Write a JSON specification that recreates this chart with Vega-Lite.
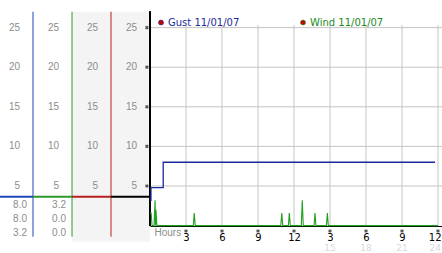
{
  "$schema": "https://vega.github.io/schema/vega-lite/v6.json",
  "padding": 0,
  "spacing": 0,
  "bounds": "flush",
  "background": "white",
  "config": {"view": {"stroke": null}, "font": "DejaVu Sans"},
  "resolve": {"scale": {"x": "independent", "color": "independent"}, "legend": {"color": "independent"}},
  "datasets": {
    "columns": [
      {"col": 1, "sensor": "gust", "lo": 0, "hi": 1},
      {"col": 2, "sensor": "wind", "lo": 1, "hi": 2},
      {"col": 3, "sensor": "third", "lo": 2, "hi": 3},
      {"col": 4, "sensor": "axis", "lo": 3, "hi": 4}
    ],
    "levels": [{"v": 5}, {"v": 10}, {"v": 15}, {"v": 20}, {"v": 25}],
    "scaleLabels": [
      {"col": 1, "v": 5}, {"col": 1, "v": 10}, {"col": 1, "v": 15}, {"col": 1, "v": 20}, {"col": 1, "v": 25},
      {"col": 2, "v": 5}, {"col": 2, "v": 10}, {"col": 2, "v": 15}, {"col": 2, "v": 20}, {"col": 2, "v": 25},
      {"col": 3, "v": 5}, {"col": 3, "v": 10}, {"col": 3, "v": 15}, {"col": 3, "v": 20}, {"col": 3, "v": 25},
      {"col": 4, "v": 5}, {"col": 4, "v": 10}, {"col": 4, "v": 15}, {"col": 4, "v": 20}, {"col": 4, "v": 25}
    ],
    "summary": [
      {"col": 1, "lines": ["8.0", "8.0", "3.2"]},
      {"col": 2, "lines": ["3.2", "0.0", "0.0"]}
    ],
    "hours": [{"h": 3}, {"h": 6}, {"h": 9}, {"h": 12}, {"h": 15}, {"h": 18}, {"h": 21}, {"h": 24}],
    "gust": [
      {"series": "Gust", "h": 0, "v": 3.2},
      {"series": "Gust", "h": 0.08, "v": 4.8},
      {"series": "Gust", "h": 1.1, "v": 8.0},
      {"series": "Gust", "h": 23.75, "v": 8.0}
    ],
    "wind": [
      {"series": "Wind", "h": 0, "v": 1.6},
      {"series": "Wind", "h": 0.1, "v": 1.6},
      {"series": "Wind", "h": 0.17, "v": 0},
      {"series": "Wind", "h": 0.34, "v": 0},
      {"series": "Wind", "h": 0.42, "v": 3.2},
      {"series": "Wind", "h": 0.46, "v": 0},
      {"series": "Wind", "h": 0.5, "v": 2.0},
      {"series": "Wind", "h": 0.57, "v": 0},
      {"series": "Wind", "h": 3.61, "v": 0},
      {"series": "Wind", "h": 3.69, "v": 1.6},
      {"series": "Wind", "h": 3.77, "v": 0},
      {"series": "Wind", "h": 10.9, "v": 0},
      {"series": "Wind", "h": 10.98, "v": 1.6},
      {"series": "Wind", "h": 11.06, "v": 0},
      {"series": "Wind", "h": 11.53, "v": 0},
      {"series": "Wind", "h": 11.61, "v": 1.6},
      {"series": "Wind", "h": 11.69, "v": 0},
      {"series": "Wind", "h": 12.61, "v": 0},
      {"series": "Wind", "h": 12.69, "v": 3.2},
      {"series": "Wind", "h": 12.77, "v": 0},
      {"series": "Wind", "h": 13.67, "v": 0},
      {"series": "Wind", "h": 13.75, "v": 1.6},
      {"series": "Wind", "h": 13.83, "v": 0},
      {"series": "Wind", "h": 14.7, "v": 0},
      {"series": "Wind", "h": 14.78, "v": 1.6},
      {"series": "Wind", "h": 14.86, "v": 0},
      {"series": "Wind", "h": 24, "v": 0}
    ]
  },
  "hconcat": [
    {
      "width": 150,
      "height": 253,
      "layer": [
        {
          "data": {"name": "columns"},
          "transform": [{"filter": "datum.col >= 3"}],
          "mark": {"type": "rect", "fill": "#f4f4f4"},
          "encoding": {
            "x": {"field": "lo", "type": "quantitative", "scale": {"domain": [0.1538, 4], "nice": false, "zero": false}, "axis": null},
            "x2": {"field": "hi"},
            "y": {"datum": 27, "type": "quantitative", "scale": {"domain": [-3.46, 28.485], "nice": false, "zero": false}, "axis": null},
            "y2": {"datum": -2}
          }
        },
        {
          "data": {"name": "columns"},
          "transform": [{"filter": "datum.col <= 3"}],
          "mark": {"type": "rule", "strokeWidth": 1},
          "encoding": {
            "x": {"field": "col", "type": "quantitative", "scale": {"domain": [0.1538, 4], "nice": false, "zero": false}, "axis": null},
            "y": {"datum": 27, "type": "quantitative", "scale": {"domain": [-3.46, 28.485], "nice": false, "zero": false}, "axis": null},
            "y2": {"datum": -1.4},
            "color": {"field": "sensor", "type": "nominal", "scale": {"domain": ["gust", "wind", "third", "axis"], "range": ["#1f44b8", "#2a9a2a", "#b82020", "#000000"]}, "legend": null}
          }
        },
        {
          "data": {"name": "columns"},
          "mark": {"type": "rule", "strokeWidth": 2, "clip": true},
          "encoding": {
            "x": {"field": "lo", "type": "quantitative", "scale": {"domain": [0.1538, 4], "nice": false, "zero": false}, "axis": null},
            "x2": {"field": "hi"},
            "y": {"datum": 3.65, "type": "quantitative", "scale": {"domain": [-3.46, 28.485], "nice": false, "zero": false}, "axis": null},
            "color": {"field": "sensor", "type": "nominal", "scale": {"domain": ["gust", "wind", "third", "axis"], "range": ["#1f44b8", "#2a9a2a", "#d01818", "#000000"]}, "legend": null}
          }
        },
        {
          "data": {"name": "scaleLabels"},
          "mark": {"type": "text", "align": "right", "baseline": "middle", "dx": -13, "font": "Liberation Sans", "fontSize": 10, "color": "#8c8c8c"},
          "encoding": {
            "x": {"field": "col", "type": "quantitative", "scale": {"domain": [0.1538, 4], "nice": false, "zero": false}, "axis": null},
            "y": {"field": "v", "type": "quantitative", "scale": {"domain": [-3.46, 28.485], "nice": false, "zero": false}, "axis": null},
            "text": {"field": "v", "type": "quantitative"}
          }
        },
        {
          "data": {"name": "summary"},
          "mark": {"type": "text", "align": "right", "baseline": "top", "dx": -6, "font": "Liberation Sans", "fontSize": 10, "lineHeight": 14, "color": "#8c8c8c"},
          "encoding": {
            "x": {"field": "col", "type": "quantitative", "scale": {"domain": [0.1538, 4], "nice": false, "zero": false}, "axis": null},
            "y": {"datum": 3.2, "type": "quantitative", "scale": {"domain": [-3.46, 28.485], "nice": false, "zero": false}, "axis": null},
            "text": {"field": "lines"}
          }
        },
        {
          "data": {"name": "levels"},
          "mark": {"type": "point", "shape": "cross", "angle": 45, "size": 14, "filled": true, "color": "#111111"},
          "encoding": {
            "x": {"datum": 3.92, "type": "quantitative", "scale": {"domain": [0.1538, 4], "nice": false, "zero": false}, "axis": null},
            "y": {"field": "v", "type": "quantitative", "scale": {"domain": [-3.46, 28.485], "nice": false, "zero": false}, "axis": null}
          }
        }
      ]
    },
    {
      "width": 292,
      "height": 253,
      "layer": [
        {
          "data": {"name": "levels"},
          "mark": {"type": "rule", "color": "#c4c4c4", "strokeWidth": 1},
          "encoding": {
            "x": {"datum": 0, "type": "quantitative", "scale": {"domain": [0, 24.333], "nice": false, "zero": false},
              "axis": {"orient": "bottom", "offset": -27, "values": [3, 6, 9, 12, 15, 18, 21, 24], "labelExpr": "'' + (datum.value > 12 ? datum.value - 12 : datum.value)", "ticks": false, "grid": false, "domainColor": "#000000", "domainWidth": 1, "labelFont": "DejaVu Sans", "labelFontSize": 10, "labelColor": "#000000", "labelPadding": 6, "labelOverlap": false, "labelFlush": false, "labelBound": false,
                "labelAlign": {"condition": {"test": "datum.value === 24", "value": "right"}, "value": "center"},
                "labelOffset": {"condition": {"test": "datum.value === 24", "value": 3}, "value": 0},
                "title": "Hours", "titleFont": "Liberation Sans", "titleFontSize": 10, "titleFontWeight": "normal", "titleColor": "#8c8c8c", "titleAnchor": "start", "titleAlign": "left", "titleBaseline": "middle", "titleX": 4, "titleY": 6}},
            "x2": {"datum": 24.333},
            "y": {"field": "v", "type": "quantitative", "scale": {"domain": [-3.46, 28.485], "nice": false, "zero": false}, "axis": null}
          }
        },
        {
          "data": {"name": "hours"},
          "mark": {"type": "rule", "color": "#c4c4c4", "strokeWidth": 1},
          "encoding": {
            "x": {"field": "h", "type": "quantitative"},
            "y": {"datum": 25.33, "type": "quantitative"},
            "y2": {"datum": 0}
          }
        },
        {
          "data": {"name": "hours"},
          "mark": {"type": "rule", "color": "#000000", "strokeWidth": 2},
          "encoding": {
            "x": {"datum": 0, "type": "quantitative"},
            "y": {"datum": 27, "type": "quantitative"},
            "y2": {"datum": 0}
          }
        },
        {
          "data": {"name": "gust"},
          "mark": {"type": "line", "interpolate": "step-after", "strokeWidth": 1.3},
          "encoding": {
            "x": {"field": "h", "type": "quantitative"},
            "y": {"field": "v", "type": "quantitative"},
            "color": {"field": "series", "type": "nominal",
              "scale": {"domain": ["Gust", "Wind"], "range": ["#1a2a9c", "#22a022"]},
              "legend": {"orient": "none", "legendX": 6, "legendY": 17.5, "direction": "horizontal", "columns": 2, "title": null, "symbolType": "circle", "symbolSize": 25, "labelFont": "DejaVu Sans", "labelFontSize": 10, "labelOffset": 2, "columnPadding": 58, "labelExpr": "datum.label + ' 11/01/07'",
                "encode": {
                  "symbols": {"update": {"fill": {"value": "#c80000"}, "stroke": {"value": "#400000"}, "strokeWidth": {"value": 0.6}, "shape": {"value": "circle"}}},
                  "labels": {"update": {"fill": {"signal": "datum.value === 'Gust' ? '#1a2a9c' : '#1c8c1c'"}}}
                }}}
          }
        },
        {
          "data": {"name": "wind"},
          "mark": {"type": "line", "strokeWidth": 1.1},
          "encoding": {
            "x": {"field": "h", "type": "quantitative"},
            "y": {"field": "v", "type": "quantitative"},
            "color": {"field": "series", "type": "nominal"}
          }
        },
        {
          "data": {"name": "hours"},
          "mark": {"type": "point", "shape": "cross", "angle": 45, "size": 14, "filled": true, "color": "#111111"},
          "encoding": {
            "x": {"field": "h", "type": "quantitative"},
            "y": {"datum": -0.68, "type": "quantitative"}
          }
        },
        {
          "data": {"name": "hours"},
          "transform": [{"filter": "datum.h > 12"}],
          "mark": {"type": "text", "baseline": "middle", "font": "DejaVu Sans", "fontSize": 9, "color": "#d8d8d8",
            "align": {"expr": "datum.h === 24 ? 'right' : 'center'"},
            "dx": {"expr": "datum.h === 24 ? 3 : 0"}},
          "encoding": {
            "x": {"field": "h", "type": "quantitative"},
            "y": {"datum": -2.8, "type": "quantitative"},
            "text": {"field": "h", "type": "quantitative"}
          }
        }
      ]
    }
  ]
}
